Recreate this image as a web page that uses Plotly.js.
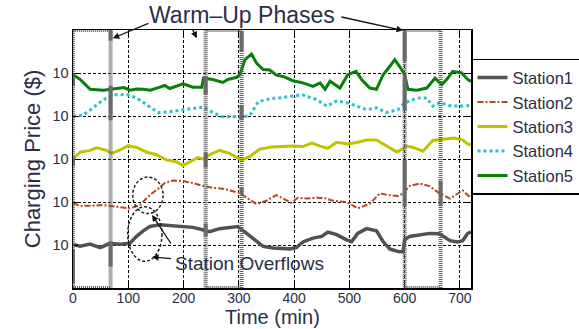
<!DOCTYPE html>
<html>
<head>
<meta charset="utf-8">
<script src="https://cdn.plot.ly/plotly-3.0.1.min.js"></script>
<style>
  html, body { margin: 0; padding: 0; background: #fff; }
  #chart { width: 579px; height: 329px; }
</style>
</head>
<body>
<div id="chart"></div>
<script>
// Charging price per station over the day (each station offset on its own decade row)
const s1Time = [0,13,31,49,67,85,103,115,127,139,157,175,199,217,236,247,265,283,298,314,332,344,362,374,392,404,416,434,450,461,477,495,504,515,531,549,561,573,588,597,600,609,627,645,663,682,696,705,714,720];
const s1Price = [1.01,0.97,1.02,0.94,1.04,1.02,1.04,1.20,1.33,1.43,1.47,1.45,1.43,1.41,1.35,1.31,1.38,1.41,1.43,1.27,1.08,0.97,0.93,0.93,0.91,0.94,1.07,1.16,1.20,1.30,1.24,1.12,1.08,1.27,1.38,1.33,1.08,0.91,0.85,0.84,1.12,1.20,1.24,1.27,1.26,1.10,1.07,1.10,1.27,1.30];

const s2Time = [0,13,31,55,79,103,121,139,154,166,181,199,217,236,253,271,289,302,314,332,350,368,380,395,407,423,441,456,470,495,515,537,555,570,588,597,609,627,645,663,682,696,705,714,720];
const s2Price = [1.97,1.91,1.91,1.93,1.89,1.85,1.93,2.16,2.31,2.44,2.50,2.49,2.44,2.37,2.33,2.31,2.25,2.21,2.10,1.95,2.03,2.16,2.08,1.98,2.10,2.08,2.10,2.09,2.03,2.00,1.85,1.96,2.20,2.16,2.14,2.20,2.37,2.43,2.37,2.20,2.08,2.20,2.27,2.16,2.10];

const s3Time = [0,13,31,43,61,70,85,100,115,133,151,169,188,199,211,226,236,247,265,283,296,305,320,338,359,380,398,416,432,447,461,477,497,515,531,549,567,586,604,615,633,651,669,690,705,714,720];
const s3Price = [3.00,3.16,3.20,3.26,3.20,3.13,3.21,3.31,3.27,3.16,3.10,2.98,2.93,2.85,2.93,3.03,3.00,3.10,3.20,3.13,3.04,2.97,3.06,3.23,3.28,3.29,3.30,3.29,3.37,3.30,3.25,3.39,3.35,3.39,3.44,3.44,3.30,3.16,3.30,3.27,3.18,3.43,3.46,3.49,3.44,3.35,3.33];

const s4Time = [0,18,36,55,72,97,115,133,154,175,199,217,236,253,271,289,302,320,335,356,374,392,416,441,459,477,495,513,531,549,567,588,597,609,627,640,651,663,685,705,720];
const s4Price = [3.99,4.02,4.19,4.38,4.49,4.50,4.42,4.27,4.08,4.10,4.15,4.18,4.21,4.08,3.98,3.99,3.97,4.01,4.33,4.40,4.42,4.46,4.49,4.38,4.23,4.35,4.31,4.23,4.15,4.19,4.08,4.15,4.27,4.36,4.42,4.42,4.23,4.31,4.23,4.23,4.25];

const s5Time = [0,13,31,55,79,92,103,115,127,140,157,166,175,199,217,233,236,253,271,280,296,302,311,323,332,344,356,368,380,398,416,434,447,456,465,483,497,512,522,537,549,561,573,582,591,600,606,622,640,655,667,676,687,703,714,720];
const s5Price = [4.96,4.85,4.62,4.60,4.64,4.66,4.60,4.63,4.62,4.60,4.67,4.71,4.64,4.75,4.67,4.67,4.88,4.85,4.78,4.85,4.90,4.96,5.31,5.44,5.23,5.08,5.07,4.95,4.92,4.82,4.77,4.69,4.77,4.62,4.81,4.65,4.96,5.04,4.85,4.65,4.62,4.96,5.15,5.31,5.15,4.96,4.62,4.60,4.65,4.88,4.73,4.85,5.04,5.00,4.85,4.80];

const stationNames = ['Station1','Station2','Station3','Station4','Station5'];
const rowTicks = [1, 2, 3, 4, 5];
const rowTickText = ['10','10','10','10','10'];
const timeTicks = [0,100,200,300,400,500,600,700];

// warm-up phase intervals (min)
const warmStart = [0, 240, 600];
const warmEnd = [68, 305, 665];
// solid stretches on the warm-up boundaries: [time, from, to]
const warmSolid = [[0,0.1,0.9],[0,2.85,3.05],[0,4.7,4.9],[68,5.75,6],[68,3.9,4.7],[68,0.5,1.08],[240,4.5,4.93],[240,2.8,3.15],[240,1.2,1.5],[305,5.5,5.97],[305,3.9,4.26],[305,2.17,2.35],[600,5.27,5.97],[600,4.12,4.93],[600,1.9,2.97],[665,1.9,2.5]];

// overflow regions circled: [t0, t1, p0, p1]
const overflowZones = [[108,163,1.73,2.58],[99,161,0.62,1.89]];

const FONT = 'Liberation Sans, Arial, Helvetica, sans-serif';
const TXT = '#2b2f45';

const times = [s1Time, s2Time, s3Time, s4Time, s5Time];
const prices = [s1Price, s2Price, s3Price, s4Price, s5Price];
const styles = [
  {color:'#525252', width:3.5, dash:'solid'},
  {color:'#b5471c', width:2, dash:'6px,2px,2px,2px'},
  {color:'#c2c200', width:3, dash:'solid'},
  {color:'#29c3c8', width:3, dash:'3px,3px'},
  {color:'#0a7e0a', width:3, dash:'solid'}
];

const traces = stationNames.map((n, i) => ({
  type:'scatter', mode:'lines', name:n,
  x: times[i], y: prices[i],
  line: styles[i]
}));

const shapes = [];
warmStart.forEach((s, i) => {
  shapes.push({type:'rect', xref:'x', yref:'y', x0:s, x1:warmEnd[i], y0:0, y1:6,
    line:{color:'#5e5e5e', width:4, dash:'1px,1px'}, layer:'above'});
});
warmSolid.forEach(w => {
  shapes.push({type:'line', xref:'x', yref:'y', x0:w[0], x1:w[0], y0:w[1], y1:w[2],
    line:{color:'#6a6a6a', width:4}, layer:'above'});
});
overflowZones.forEach(z => {
  shapes.push({type:'circle', xref:'x', yref:'y', x0:z[0], x1:z[1], y0:z[2], y1:z[3],
    line:{color:'#222', width:1.5, dash:'3px,2px'}, layer:'above'});
});

const arrowBase = {xref:'x', yref:'y', axref:'x', ayref:'y', text:'', showarrow:true,
  arrowhead:2, arrowsize:1, arrowwidth:1.3, arrowcolor:'#111', font:{size:1}};

const annotations = [
  {xref:'x', yref:'paper', x:305, y:1.06, text:'Warm–Up Phases', showarrow:false,
   font:{family:FONT, size:23, color:TXT}, yanchor:'middle'},
  Object.assign({}, arrowBase, {x:72, y:5.81, ax:139, ay:6.17}),
  Object.assign({}, arrowBase, {x:224, y:5.81, ax:215, ay:6.05}),
  Object.assign({}, arrowBase, {x:597, y:5.99, ax:483, ay:6.31}),
  {xref:'x', yref:'y', x:320, y:0.58, text:'Station Overflows', showarrow:false,
   font:{family:FONT, size:19, color:TXT}},
  Object.assign({}, arrowBase, {x:143, y:0.72, ax:180, ay:0.68}),
  Object.assign({}, arrowBase, {x:143, y:1.7, ax:179, ay:1.0}),
  // axis title for time, set at the foot of the figure below the tick labels
  {xref:'paper', yref:'paper', x:0.5, y:-0.159, yanchor:'bottom', text:'Time (min)', showarrow:false,
   font:{family:FONT, size:20, color:TXT}, borderpad:0}
];

const axisCommon = {
  showline:true, linecolor:'#000', linewidth:1.5, mirror:'ticks',
  ticks:'inside', ticklen:5, tickwidth:1, tickcolor:'#000',
  showgrid:true, gridcolor:'#000', gridwidth:1, griddash:'3px,2px',
  zeroline:false, tickfont:{family:FONT, size:14.5, color:TXT}
};

const layout = {
  width:579, height:329,
  margin:{l:73, r:108, t:30, b:41, autoexpand:false},
  paper_bgcolor:'#fff', plot_bgcolor:'#fff',
  showlegend:true,
  legend:{x:1.0, xanchor:'left', y:0.888, yanchor:'top',
    bordercolor:'#000', borderwidth:1.5, bgcolor:'#fff',
    font:{family:FONT, size:16.5, color:TXT}, tracegroupgap:0},
  xaxis:Object.assign({}, axisCommon, {range:[0,720], tickvals:timeTicks, ticklabelstandoff:-3,
    tickfont:{family:FONT, size:14, color:TXT}}),
  yaxis:Object.assign({}, axisCommon, {range:[0,6], tickvals:rowTicks, ticktext:rowTickText,
    title:{text:'Charging Price ($)', font:{family:FONT, size:22, color:TXT}, standoff:6}}),
  shapes:shapes,
  annotations:annotations
};

Plotly.newPlot('chart', traces, layout, {displayModeBar:false, staticPlot:true});
</script>
</body>
</html>
